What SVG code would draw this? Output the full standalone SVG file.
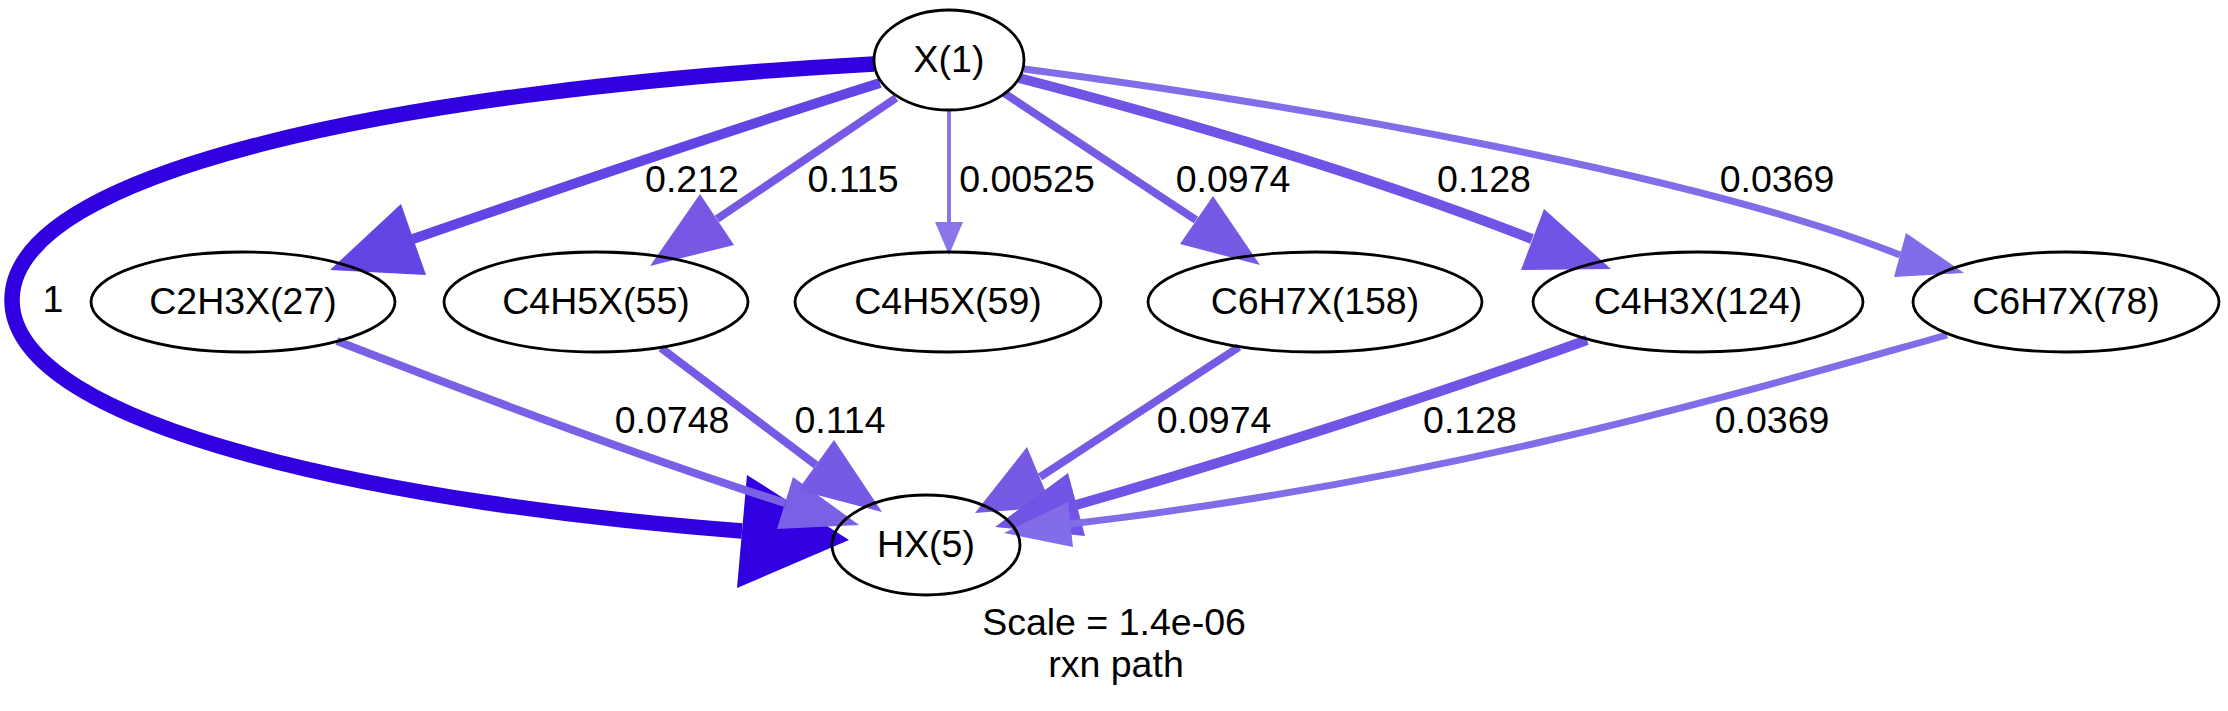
<svg xmlns="http://www.w3.org/2000/svg" width="2228" height="711" viewBox="0 0 2228 711">
<style>
.node ellipse{fill:none;stroke:#000;stroke-width:2.8}
text{font-family:"Liberation Sans",Arial,sans-serif;font-size:37.5px;fill:#000;text-anchor:middle}
.e{fill:none}
</style>
<rect width="2228" height="711" fill="#fff"/>
<g id="connectors">
<g id="e_X1_HX5">
<path class="e" d="M874,64 C400,90 12,170 12,300 C12,430 400,505 742,531" stroke="#3000e0" stroke-width="15.5"/>
<polygon points="849,540 747,475 737,588" fill="#3000e0"/>
<text x="53" y="312">1</text>
</g>
<g id="e_X1_C2H3X27">
<path class="e" d="M880,83 C730,130 560,188 413,239" stroke="#6344e4" stroke-width="10"/>
<polygon points="330,270 401,204 426,275" fill="#6344e4"/>
<text x="692" y="192">0.212</text>
</g>
<g id="e_X1_C4H5X55">
<path class="e" d="M896,98 L717,219" stroke="#7658e4" stroke-width="8"/>
<polygon points="650,266 700,194 734,245" fill="#7658e4"/>
<text x="853" y="192">0.115</text>
</g>
<g id="e_X1_C4H5X59">
<path class="e" d="M949,110 L949,222" stroke="#8b75e8" stroke-width="4"/>
<polygon points="949,255 935,222 963,222" fill="#8b75e8"/>
<text x="1027" y="192">0.00525</text>
</g>
<g id="e_X1_C6H7X158">
<path class="e" d="M1004,93 L1196,220" stroke="#775ae4" stroke-width="8"/>
<polygon points="1260,265 1180,244 1213,196" fill="#775ae4"/>
<text x="1233" y="192">0.0974</text>
</g>
<g id="e_X1_C4H3X124">
<path class="e" d="M1019,78 C1200,125 1380,180 1532,239" stroke="#7153e5" stroke-width="10"/>
<polygon points="1611,269 1544,209 1521,270" fill="#7153e5"/>
<text x="1484" y="192">0.128</text>
</g>
<g id="e_X1_C6H7X78">
<path class="e" d="M1024,69 C1300,105 1700,175 1900,255" stroke="#826ce8" stroke-width="7"/>
<polygon points="1964,273 1906,233 1894,277" fill="#826ce8"/>
<text x="1777" y="192">0.0369</text>
</g>
<g id="e_C2H3X27_HX5">
<path class="e" d="M337,341 C450,385 620,450 785,503" stroke="#7a60e5" stroke-width="8"/>
<polygon points="859,525 793,477 777,529" fill="#7a60e5"/>
<text x="672" y="433">0.0748</text>
</g>
<g id="e_C4H5X55_HX5">
<path class="e" d="M661,348 L816,465" stroke="#7659e4" stroke-width="8"/>
<polygon points="882,512 834,440 798,490" fill="#7659e4"/>
<text x="840" y="433">0.114</text>
</g>
<g id="e_C6H7X158_HX5">
<path class="e" d="M1239,347 L1040,477" stroke="#775ae4" stroke-width="8"/>
<polygon points="975,513 1027,447 1052,507" fill="#775ae4"/>
<text x="1214" y="433">0.0974</text>
</g>
<g id="e_C4H3X124_HX5">
<path class="e" d="M1587,340 C1450,390 1250,455 1076,505" stroke="#7153e5" stroke-width="10"/>
<polygon points="995,527 1068,473 1085,536" fill="#7153e5"/>
<text x="1470" y="433">0.128</text>
</g>
<g id="e_C6H7X78_HX5">
<path class="e" d="M1947,335 C1750,390 1450,480 1070,524" stroke="#826ce8" stroke-width="7"/>
<polygon points="1004,533 1068,502 1073,547" fill="#826ce8"/>
<text x="1772" y="433">0.0369</text>
</g>
</g>
<g id="X1" class="node"><ellipse cx="949" cy="60" rx="75" ry="50"/><text x="949" y="72">X(1)</text></g>
<g id="C2H3X27" class="node"><ellipse cx="243" cy="302" rx="152" ry="50"/><text x="243" y="314">C2H3X(27)</text></g>
<g id="C4H5X55" class="node"><ellipse cx="596" cy="302" rx="152" ry="50"/><text x="596" y="314">C4H5X(55)</text></g>
<g id="C4H5X59" class="node"><ellipse cx="948" cy="302" rx="153" ry="50"/><text x="948" y="314">C4H5X(59)</text></g>
<g id="C6H7X158" class="node"><ellipse cx="1315" cy="302" rx="167" ry="50"/><text x="1315" y="314">C6H7X(158)</text></g>
<g id="C4H3X124" class="node"><ellipse cx="1698" cy="302" rx="165" ry="50"/><text x="1698" y="314">C4H3X(124)</text></g>
<g id="C6H7X78" class="node"><ellipse cx="2066" cy="302" rx="153" ry="50"/><text x="2066" y="314">C6H7X(78)</text></g>
<g id="HX5" class="node"><ellipse cx="926" cy="545" rx="94" ry="50"/><text x="926" y="557">HX(5)</text></g>
<g id="legend">
<text x="1114" y="635">Scale = 1.4e-06</text>
<text x="1116" y="677">rxn path</text>
</g>
</svg>
